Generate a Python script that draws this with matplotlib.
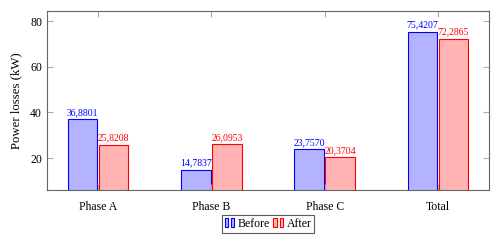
import matplotlib
matplotlib.use("Agg")
import matplotlib.pyplot as plt
from matplotlib.patches import Rectangle
from matplotlib.legend_handler import HandlerBase
import numpy as np

categories = ["Phase A", "Phase B", "Phase C", "Total"]
before = [36.8801, 14.7837, 23.7570, 75.4207]
after = [25.8208, 26.0953, 20.3704, 72.2865]
before_labels = ["36,8801", "14,7837", "23,7570", "75,4207"]
after_labels = ["25,8208", "26,0953", "20,3704", "72,2865"]
yticks = [20, 40, 60, 80]

plt.rcParams['font.family'] = ['Liberation Serif', 'DejaVu Serif']

fig = plt.figure(figsize=(4.99, 2.42), dpi=100)
ax = fig.add_axes([47/499, 1-190/242, (489-47)/499, (190-11)/242])

x = np.arange(len(categories))
w = 0.26
off = 0.137
bb = ax.bar(x - off, before, w, color='#b3b3ff', edgecolor='#0000ff', linewidth=0.8)
rb = ax.bar(x + off, after, w, color='#ffb3b3', edgecolor='#ff0000', linewidth=0.8)

for xi, v, s in zip(x, before, before_labels):
    ax.text(xi - off, v + 1.0, s, ha='center', va='bottom', fontsize=7, color='#0000ff')
for xi, v, s in zip(x, after, after_labels):
    ax.text(xi + off, v + 1.0, s, ha='center', va='bottom', fontsize=7, color='#ff0000')

ax.set_xlim(-0.45, 3.45)
ax.set_ylim(6.0, 84.4)
ax.set_xticks(x)
ax.set_xticklabels(categories, fontsize=8.5)
ax.set_yticks(yticks)
ax.tick_params(axis='y', labelsize=8.5)
ax.tick_params(direction='in', length=4, color='#aaaaaa', top=True, right=True, width=0.8)
ax.tick_params(axis='x', pad=8)
for sp in ax.spines.values():
    sp.set_color('#666666')
    sp.set_linewidth(0.8)
ax.set_ylabel("Power losses (kW)", fontsize=9.2, labelpad=6)


class BarHandler(HandlerBase):
    def __init__(self, fc, ec):
        super().__init__()
        self.fc = fc
        self.ec = ec

    def create_artists(self, legend, orig_handle, xdescent, ydescent, width, height, fontsize, trans):
        bw = width * 0.3
        h = height * 1.1
        y0 = -ydescent - 0.05 * height
        r1 = Rectangle((-xdescent, y0), bw, h, facecolor=self.fc, edgecolor=self.ec, linewidth=0.8, transform=trans)
        r2 = Rectangle((-xdescent + width * 0.62, y0), bw, h, facecolor=self.fc, edgecolor=self.ec, linewidth=0.8, transform=trans)
        return [r1, r2]


leg = fig.legend([bb, rb], ["Before", "After"], loc='center', bbox_to_anchor=(268/499, 1-224/242),
                 ncol=2, fontsize=8.5, frameon=True, fancybox=False, edgecolor='#333333',
                 handlelength=0.9, handletextpad=0.2, columnspacing=0.3, borderpad=0.25,
                 handler_map={bb: BarHandler('#b3b3ff', '#0000ff'), rb: BarHandler('#ffb3b3', '#ff0000')})
leg.get_frame().set_linewidth(0.8)

fig.savefig("out.png", dpi=100)
